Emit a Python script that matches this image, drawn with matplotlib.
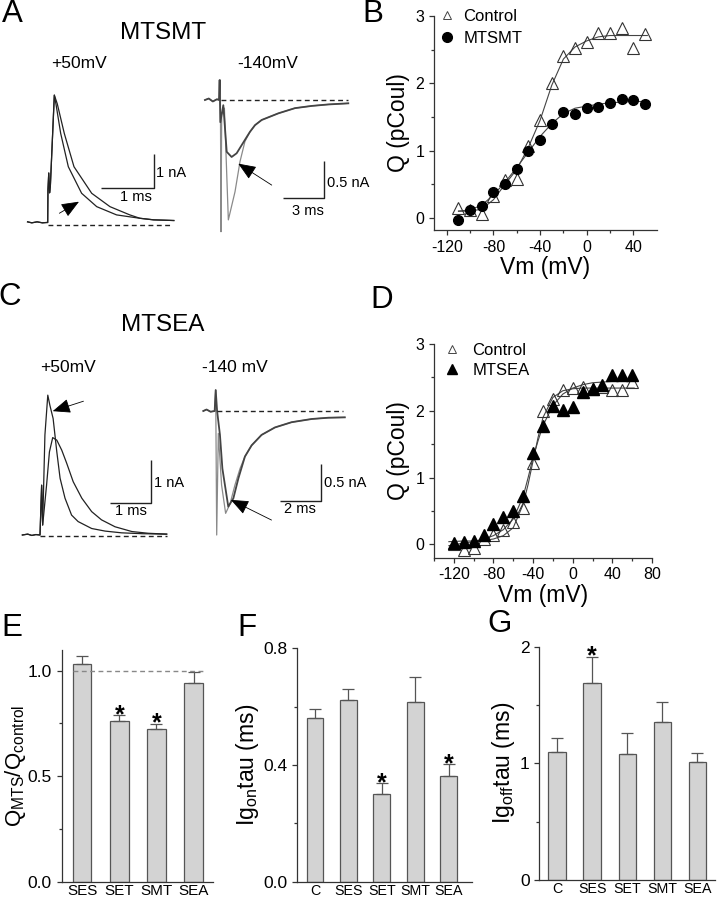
import matplotlib
matplotlib.use("Agg")
import matplotlib.pyplot as plt
from matplotlib.lines import Line2D
import numpy as np

plt.rcParams['font.family'] = ['Liberation Sans', 'DejaVu Sans']
plt.rcParams['axes.unicode_minus'] = False
plt.rcParams['mathtext.fontset'] = 'custom'
plt.rcParams['mathtext.rm'] = 'Liberation Sans'
plt.rcParams['mathtext.it'] = 'Liberation Sans'

W, H = 718, 899

# ---------------- DATA ----------------
# Panel A, +50 mV traces (ms, nA)
a50_fast_t = [-0.38, -0.30, -0.20, -0.10, -0.02, 0.0, 0.005, 0.02, 0.035, 0.05, 0.125, 0.16, 0.245, 0.389, 0.64, 0.925, 1.30, 1.74, 2.0, 2.2, 2.38]
a50_fast_i = [0.02, -0.01, 0.02, -0.01, 0.0, 0.0, 1.0, 1.5, 0.9, 1.1, 3.86, 3.55, 2.70, 1.69, 0.885, 0.48, 0.23, 0.128, 0.08, 0.07, 0.06]
a50_slow_t = [-0.38, -0.30, -0.20, -0.10, -0.02, 0.0, 0.005, 0.02, 0.035, 0.05, 0.125, 0.18, 0.313, 0.496, 0.83, 1.175, 1.55, 1.74, 2.0, 2.2, 2.38]
a50_slow_i = [0.02, -0.01, 0.02, -0.01, 0.0, 0.0, 1.0, 1.5, 0.9, 1.1, 3.86, 3.60, 2.70, 1.69, 0.885, 0.48, 0.23, 0.128, 0.08, 0.07, 0.06]
# Panel A, -140 mV traces
a140_big_t = [-1.18, -0.9, -0.6, -0.3, -0.1, -0.05, 0.0, 0.05, 0.25, 0.54, 1.03, 1.40, 1.76, 2.13, 2.50, 2.99, 4.22, 5.44, 6.67, 7.89, 9.36]
a140_big_i = [0.0, 0.02, -0.02, 0.01, 0.0, 0.27, -1.78, -0.2, -0.11, -1.62, -1.24, -0.83, -0.56, -0.43, -0.34, -0.27, -0.18, -0.11, -0.08, -0.06, -0.045]
a140_small_t = [-1.18, -0.9, -0.6, -0.3, -0.15, -0.1, -0.05, 0.17, 0.42, 0.78, 1.15, 1.52, 1.89, 2.13, 2.50, 2.99, 4.22, 5.44, 6.67, 7.89, 9.36]
a140_small_i = [0.0, 0.02, -0.02, 0.01, 0.0, 0.27, -0.3, -0.07, -0.70, -0.77, -0.72, -0.61, -0.50, -0.43, -0.34, -0.27, -0.18, -0.11, -0.08, -0.06, -0.045]
# Panel C, +50 mV traces
c50_fast_t = [-0.43, -0.3, -0.2, -0.1, 0.0, 0.04, 0.065, 0.12, 0.19, 0.24, 0.32, 0.41, 0.49, 0.61, 0.77, 0.93, 1.26, 1.59, 1.99, 2.5, 3.09]
c50_fast_i = [0.0, 0.02, -0.01, 0.01, 0.0, 1.15, 0.23, 2.31, 3.23, 3.0, 2.69, 1.92, 1.31, 0.85, 0.46, 0.31, 0.15, 0.09, 0.05, 0.03, 0.02]
c50_slow_t = [-0.43, -0.3, -0.2, -0.1, 0.0, 0.04, 0.065, 0.16, 0.23, 0.31, 0.41, 0.53, 0.65, 0.81, 1.02, 1.26, 1.50, 1.83, 2.24, 2.64, 3.09]
c50_slow_i = [0.0, 0.02, -0.01, 0.01, 0.0, 1.15, 0.23, 1.15, 1.92, 2.25, 2.19, 1.96, 1.66, 1.23, 0.85, 0.54, 0.35, 0.19, 0.08, 0.04, 0.02]
# Panel C, -140 mV traces
c140_big_t = [-0.66, -0.5, -0.3, -0.1, -0.05, 0.0, 0.08, 0.24, 0.44, 0.66, 0.90, 1.15, 1.39, 1.72, 2.21, 2.87, 3.69, 4.68, 5.5, 6.31]
c140_big_i = [0.0, 0.02, -0.01, 0.0, 0.28, -1.66, -0.3, -0.99, -1.37, -1.24, -0.99, -0.77, -0.61, -0.46, -0.32, -0.22, -0.15, -0.107, -0.09, -0.085]
c140_small_t = [-0.66, -0.5, -0.3, -0.1, -0.05, 0.02, 0.16, 0.28, 0.57, 0.82, 1.07, 1.39, 1.72, 2.21, 2.87, 3.69, 4.68, 5.5, 6.31]
c140_small_i = [0.0, 0.02, -0.01, 0.0, 0.28, 0.0, -0.32, -0.77, -1.28, -1.17, -0.90, -0.61, -0.46, -0.32, -0.22, -0.15, -0.107, -0.09, -0.085]

# Panel B: Q-V, MTSMT
b_v = [-110, -100, -90, -80, -70, -60, -50, -40, -30, -20, -10, 0, 10, 20, 30, 40, 50]
b_ctrl = [0.15, 0.11, 0.06, 0.33, 0.57, 0.58, 1.07, 1.45, 2.01, 2.40, 2.53, 2.61, 2.74, 2.74, 2.82, 2.53, 2.73]
b_mtsmt = [-0.03, 0.12, 0.17, 0.39, 0.50, 0.73, 1.00, 1.15, 1.40, 1.58, 1.54, 1.63, 1.65, 1.70, 1.77, 1.75, 1.69]
b_fit_v = [-110, -100, -90, -80, -70, -60, -50, -40, -30, -20, -10, 0, 10, 20, 30, 40, 52]
b_fit_ctrl = [0.10, 0.10, 0.13, 0.27, 0.50, 0.72, 1.05, 1.45, 1.97, 2.36, 2.54, 2.63, 2.69, 2.71, 2.71, 2.71, 2.71]
b_fit_mtsmt = [0.10, 0.12, 0.19, 0.34, 0.53, 0.75, 0.98, 1.21, 1.40, 1.55, 1.63, 1.66, 1.69, 1.71, 1.72, 1.73, 1.73]

# Panel D: Q-V, MTSEA
d_v_ctrl = [-120, -110, -100, -90, -80, -70, -60, -50, -40, -30, -20, -10, 0, 10, 20, 30, 40, 50, 60]
d_ctrl = [0.0, -0.08, -0.05, 0.08, 0.14, 0.21, 0.33, 0.55, 1.22, 1.99, 2.18, 2.31, 2.34, 2.35, 2.32, 2.35, 2.31, 2.31, 2.43]
d_v_sea = [-120, -110, -100, -90, -80, -70, -60, -50, -40, -30, -20, -10, 0, 10, 20, 30, 40, 50, 60]
d_sea = [0.02, 0.04, 0.05, 0.14, 0.31, 0.41, 0.50, 0.72, 1.37, 1.77, 2.07, 2.01, 2.05, 2.28, 2.32, 2.38, 2.54, 2.53, 2.54]
d_fit_v = [-125, -110, -100, -90, -80, -70, -60, -50, -45, -40, -35, -30, -20, -10, 0, 10, 20, 40, 62]
d_fit_ctrl = [0.04, 0.05, 0.05, 0.06, 0.08, 0.13, 0.25, 0.60, 0.90, 1.25, 1.60, 1.90, 2.20, 2.30, 2.33, 2.34, 2.34, 2.34, 2.34]
d_fit_sea = [-0.02, 0.02, 0.04, 0.08, 0.13, 0.22, 0.38, 0.72, 1.00, 1.30, 1.55, 1.78, 2.08, 2.25, 2.34, 2.39, 2.42, 2.44, 2.45]

# Panel E
e_cats = ['SES', 'SET', 'SMT', 'SEA']
e_vals = [1.03, 0.763, 0.723, 0.943]
e_errs = [0.04, 0.027, 0.026, 0.049]
e_star = ['SET', 'SMT']
# Panel F
f_cats = ['C', 'SES', 'SET', 'SMT', 'SEA']
f_vals = [0.56, 0.623, 0.30, 0.616, 0.361]
f_errs = [0.031, 0.039, 0.037, 0.084, 0.041]
f_star = ['SET', 'SEA']
# Panel G
g_cats = ['C', 'SES', 'SET', 'SMT', 'SEA']
g_vals = [1.097, 1.686, 1.077, 1.357, 1.014]
g_errs = [0.123, 0.228, 0.186, 0.166, 0.072]
g_star = ['SES']

# ---------------- FIGURE ----------------
fig = plt.figure(figsize=(W / 100, H / 100), dpi=100)


def px_axes(l, t, r, b):
    return fig.add_axes([l / W, 1 - b / H, (r - l) / W, (b - t) / H])


def trace_axes(box, x0, sx, y0, sy):
    l, t, r, b = box
    ax = px_axes(l, t, r, b)
    ax.set_xlim((l - x0) / sx, (r - x0) / sx)
    ax.set_ylim((y0 - b) / sy, (y0 - t) / sy)
    ax.axis('off')
    return ax


def ftext(x, y, s, **kw):
    fig.text(x / W, 1 - y / H, s, **kw)


def arrow(ax, tip, tail):
    ax.annotate('', xy=tip, xytext=tail,
                arrowprops=dict(arrowstyle='-|>,head_length=1.1,head_width=0.45',
                                lw=0.6, color='black', shrinkA=0, shrinkB=0))


def scalebar(ax, x1, x2, y1, y2):
    ax.plot([x1, x2, x2], [y1, y1, y2], color='#222', lw=1.0, solid_capstyle='butt')


DASH = (0, (3.5, 2.5))

# Panel A traces
axA1 = trace_axes((0, 40, 180, 240), 47.7, 53, 222.5, 33)
axA1.plot(a50_slow_t, a50_slow_i, color='#222', lw=0.9)
axA1.plot(a50_fast_t, a50_fast_i, color='#222', lw=0.9)
axA1.plot([0, 2.34], [-0.09, -0.09], color='#222', lw=1.0, ls=DASH)
scalebar(axA1, 1.006, 2.006, 1.05, 2.07)
arrow(axA1, (0.59, 0.63), (0.22, 0.28))

axA2 = trace_axes((190, 40, 365, 250), 221, 13.6, 100, 74)
axA2.plot(a140_big_t, a140_big_i, color='#8a8a8a', lw=0.9)
axA2.plot(a140_small_t, a140_small_i, color='#444', lw=1.3)
axA2.plot([0, 9.36], [0, 0], color='#222', lw=1.0, ls=DASH)
scalebar(axA2, 4.58, 7.57, -1.33, -0.82)
arrow(axA2, (1.27, -0.86), (3.73, -1.15))

# Panel C traces
axC1 = trace_axes((0, 380, 180, 560), 40, 41, 535, 43.3)
axC1.plot(c50_slow_t, c50_slow_i, color='#222', lw=0.9)
axC1.plot(c50_fast_t, c50_fast_i, color='#222', lw=0.9)
axC1.plot([0, 3.09], [-0.02, -0.02], color='#222', lw=1.0, ls=DASH)
scalebar(axC1, 1.71, 2.71, 0.73, 1.73)
arrow(axC1, (0.31, 2.86), (1.06, 3.09))

axC2 = trace_axes((190, 380, 365, 560), 216.7, 20.3, 411, 74.7)
axC2.plot(c140_big_t, c140_big_i, color='#8a8a8a', lw=0.9)
axC2.plot(c140_small_t, c140_small_i, color='#444', lw=1.3)
axC2.plot([0, 6.2], [0, 0], color='#222', lw=1.0, ls=DASH)
scalebar(axC2, 3.12, 5.12, -1.21, -0.71)
arrow(axC2, (0.70, -1.19), (2.70, -1.46))

# Texts for trace panels
ftext(163, 33, 'MTSMT', fontsize=17.5, ha='center', va='center')
ftext(79, 63, '+50mV', fontsize=12.5, ha='center', va='center')
ftext(268, 63, '-140mV', fontsize=12.5, ha='center', va='center')
ftext(156, 173, '1 nA', fontsize=10.5, ha='left', va='center')
ftext(136, 197, '1 ms', fontsize=10.5, ha='center', va='center')
ftext(327, 183, '0.5 nA', fontsize=10.5, ha='left', va='center')
ftext(308, 211, '3 ms', fontsize=10.5, ha='center', va='center')

ftext(163, 325, 'MTSEA', fontsize=17.5, ha='center', va='center')
ftext(68, 367, '+50mV', fontsize=12.5, ha='center', va='center')
ftext(235, 367, '-140 mV', fontsize=12.5, ha='center', va='center')
ftext(154, 483, '1 nA', fontsize=10.5, ha='left', va='center')
ftext(131, 511, '1 ms', fontsize=10.5, ha='center', va='center')
ftext(324, 483, '0.5 nA', fontsize=10.5, ha='left', va='center')
ftext(300, 509, '2 ms', fontsize=10.5, ha='center', va='center')

# Panel letters
for lab, x, y in [('A', 12, 14), ('B', 373, 14), ('C', 10, 297), ('D', 382, 300),
                  ('E', 12, 628), ('F', 247, 628), ('G', 500, 624)]:
    ftext(x, y, lab, fontsize=22.5, ha='center', va='center')

SPC = '#333333'


def style_axes(ax, fs=11.5):
    for s in ('top', 'right'):
        ax.spines[s].set_visible(False)
    for s in ('left', 'bottom'):
        ax.spines[s].set_color(SPC)
        ax.spines[s].set_linewidth(0.9)
    ax.tick_params(which='both', direction='out', color=SPC, width=0.9, labelsize=fs)
    ax.tick_params(which='major', length=3.5)
    ax.tick_params(which='minor', length=2)


# Panel B
axB = px_axes(434, 16, 657, 230)
axB.plot(b_fit_v, b_fit_ctrl, color='#444', lw=0.8, zorder=2)
axB.plot(b_fit_v, b_fit_mtsmt, color='#444', lw=0.8, zorder=2)
axB.plot(b_v, b_ctrl, ls='none', marker='^', ms=8, mfc='none', mec='#333', mew=0.8, zorder=3)
axB.plot(b_v, b_mtsmt, ls='none', marker='o', ms=7, mfc='black', mec='black', zorder=4)
axB.set_xlim(-131, 60.3)
axB.set_ylim(-0.18, 3.0)
axB.set_xticks([-120, -80, -40, 0, 40])
axB.set_xticks(np.arange(-120, 60, 20), minor=True)
axB.set_yticks([0, 1, 2, 3])
axB.set_yticks([0.5, 1.5, 2.5], minor=True)
style_axes(axB)
axB.set_xlabel('Vm (mV)', fontsize=16.5, labelpad=1)
axB.set_ylabel('Q (pCoul)', fontsize=16.5, labelpad=4)
hB = [Line2D([], [], ls='none', marker='^', ms=6, mfc='none', mec='#444', mew=0.7),
      Line2D([], [], ls='none', marker='o', ms=7, mfc='black', mec='black')]
axB.legend(hB, ['Control', 'MTSMT'], loc='upper left', bbox_to_anchor=(0.02, 1.035),
           frameon=False, fontsize=12, handlelength=1.0, handletextpad=0.5,
           labelspacing=0.45, borderpad=0, borderaxespad=0)

# Panel D
axD = px_axes(434, 344, 652, 557.7)
axD.plot(d_fit_v, d_fit_ctrl, color='#444', lw=0.8, zorder=2)
axD.plot(d_fit_v, d_fit_sea, color='#444', lw=0.8, zorder=2)
axD.plot(d_v_ctrl, d_ctrl, ls='none', marker='^', ms=8, mfc='none', mec='#333', mew=0.8, zorder=3)
axD.plot(d_v_sea, d_sea, ls='none', marker='^', ms=8, mfc='black', mec='black', zorder=4)
axD.set_xlim(-140, 80)
axD.set_ylim(-0.2, 3.0)
axD.set_xticks([-120, -80, -40, 0, 40, 80])
axD.set_xticks(np.arange(-140, 81, 20), minor=True)
axD.set_yticks([0, 1, 2, 3])
axD.set_yticks([0.5, 1.5, 2.5], minor=True)
style_axes(axD)
axD.set_xlabel('Vm (mV)', fontsize=16.5, labelpad=1)
axD.set_ylabel('Q (pCoul)', fontsize=16.5, labelpad=4)
hD = [Line2D([], [], ls='none', marker='^', ms=6, mfc='none', mec='#444', mew=0.7),
      Line2D([], [], ls='none', marker='^', ms=6.5, mfc='black', mec='black')]
axD.legend(hD, ['Control', 'MTSEA'], loc='upper left', bbox_to_anchor=(0.045, 1.005),
           frameon=False, fontsize=12, handlelength=1.0, handletextpad=0.7,
           labelspacing=0.3, borderpad=0, borderaxespad=0)


def bar_panel(box, cats, vals, errs, stars, xlim, ylim, yticks, yminor, ylabel, fmt,
              xfs, ylfs, ylpad):
    ax = px_axes(*box)
    x = np.arange(len(cats))
    ax.bar(x, vals, width=0.5, color='#d3d3d3', edgecolor='#555555', linewidth=0.9,
           yerr=[np.zeros(len(vals)), errs], capsize=4,
           error_kw=dict(ecolor='#555555', elinewidth=0.9, capthick=0.9), zorder=2)
    for c in stars:
        i = cats.index(c)
        ax.annotate('*', (x[i], vals[i] + errs[i]), xytext=(0, -5), textcoords='offset points',
                    ha='center', va='baseline', fontsize=18, fontweight='bold')
    ax.set_xlim(*xlim)
    ax.set_ylim(*ylim)
    ax.set_xticks(x)
    ax.set_xticklabels(cats)
    ax.set_yticks(yticks)
    ax.set_yticklabels([fmt % v for v in yticks])
    ax.set_yticks(yminor, minor=True)
    style_axes(ax, fs=12.5)
    ax.tick_params(axis='x', which='both', length=0, pad=1.5, labelsize=xfs)
    ax.set_ylabel(ylabel, fontsize=ylfs, labelpad=ylpad)
    return ax


axE = bar_panel((61.7, 649.6, 213, 881.7), e_cats, e_vals, e_errs, e_star, (-0.55, 3.52), (0, 1.1),
                [0.0, 0.5, 1.0], [0.25, 0.75], r'Q$_{\mathrm{MTS}}$/Q$_{\mathrm{control}}$', '%.1f',
                11, 16, 0)
axE.plot([-0.25, 3.25], [1.0, 1.0], color='#888888', lw=1.0, ls=DASH, zorder=3)

axF = bar_panel((297.3, 648.3, 471.7, 881.7), f_cats, f_vals, f_errs, f_star, (-0.53, 4.69), (0, 0.8),
                [0.0, 0.4, 0.8], [0.2, 0.6], r'Ig$_{\mathrm{on}}$tau (ms)', '%.1f', 10.3, 16.5, 2)

axG = bar_panel((539.3, 646.7, 715, 880), g_cats, g_vals, g_errs, g_star, (-0.51, 4.5), (0, 2.0),
                [0, 1, 2], [0.5, 1.5], r'Ig$_{\mathrm{off}}$tau (ms)', '%d', 10.3, 16.5, 2)

fig.savefig('out.png', dpi=100)
